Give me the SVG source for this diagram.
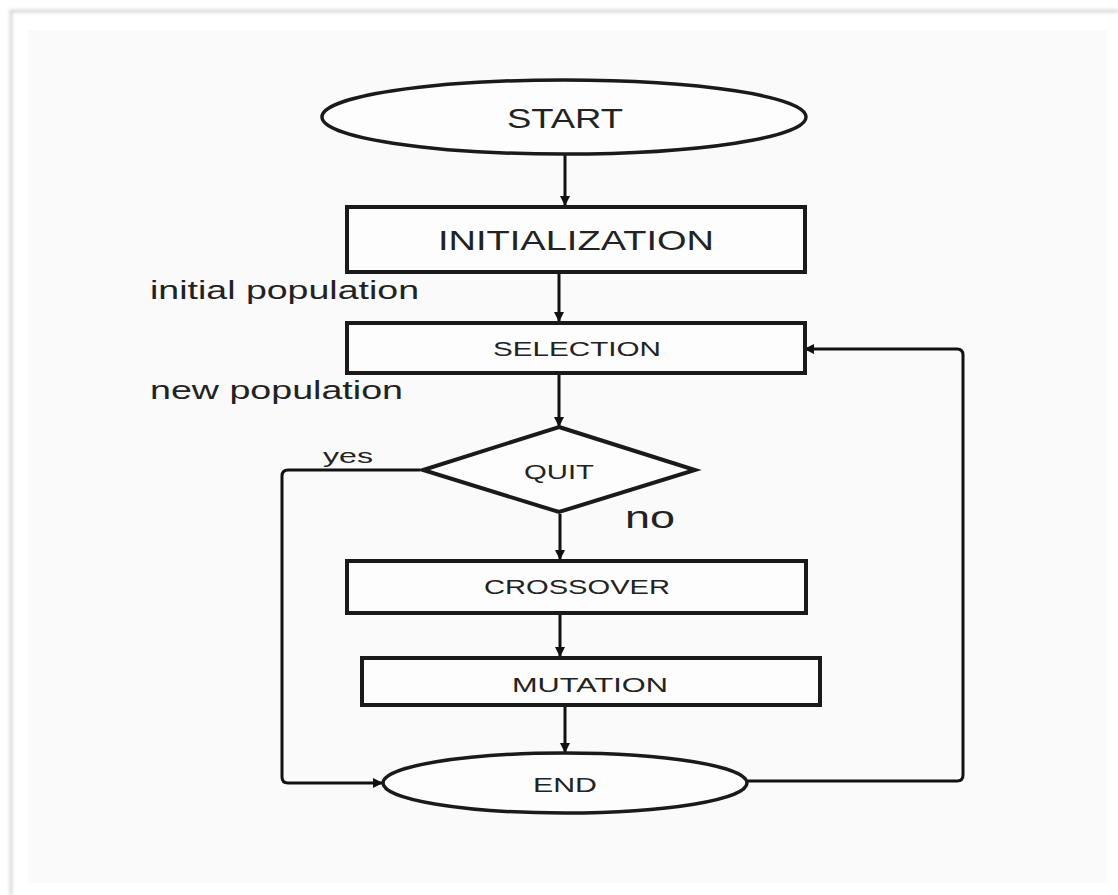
<svg xmlns="http://www.w3.org/2000/svg" width="1118" height="895" viewBox="0 0 1118 895">
  <defs>
    <marker id="ah" markerWidth="10" markerHeight="10" refX="9" refY="5" orient="auto" markerUnits="userSpaceOnUse">
      <path d="M0,0 L10,5 L0,10 Z" fill="#111"/>
    </marker>
    <filter id="sh" x="-5%" y="-5%" width="110%" height="110%">
      <feGaussianBlur stdDeviation="1.5"/>
    </filter>
  </defs>
  <style>
    .box { fill: #fdfdfd; stroke: #1a1a1a; stroke-width: 4; }
    .ell { fill: #fdfdfd; stroke: #1a1a1a; stroke-width: 3.5; }
    .lbl { font-family: "Liberation Sans", "DejaVu Sans", sans-serif; fill: #222; text-anchor: middle; }
    .side { font-family: "Liberation Sans", "DejaVu Sans", sans-serif; fill: #222; }
    .conn { fill: none; stroke: #111; stroke-width: 3; stroke-linejoin: round; }
  </style>
  <rect x="0" y="0" width="1118" height="895" fill="#ffffff"/>
  <path d="M11,895 L11,11 L1118,11" fill="none" stroke="#d8d8d8" stroke-width="3" filter="url(#sh)"/>
  <rect x="28" y="30" width="1079" height="853" fill="#fafafa"/>

  <g id="connectors">
    <line class="conn" x1="565" y1="155" x2="565" y2="205" marker-end="url(#ah)"/>
    <line class="conn" x1="559" y1="274" x2="559" y2="321" marker-end="url(#ah)"/>
    <line class="conn" x1="559" y1="375" x2="559" y2="426" marker-end="url(#ah)"/>
    <line class="conn" x1="560" y1="514" x2="560" y2="559" marker-end="url(#ah)"/>
    <line class="conn" x1="560" y1="615" x2="560" y2="656" marker-end="url(#ah)"/>
    <line class="conn" x1="565" y1="707" x2="565" y2="752" marker-end="url(#ah)"/>
    <path class="conn" d="M420,470 L288,470 Q282,470 282,476 L282,777 Q282,783 288,783 L382,783" marker-end="url(#ah)"/>
    <path class="conn" d="M748,781 L957,781 Q963,781 963,775 L963,355 Q963,349 957,349 L805,349" marker-end="url(#ah)"/>
  </g>

  <g id="start">
    <ellipse class="ell" cx="564" cy="117" rx="242" ry="37"/>
    <text class="lbl" x="565" y="128" font-size="28" textLength="116" lengthAdjust="spacingAndGlyphs">START</text>
  </g>
  <g id="initialization">
    <rect class="box" x="347" y="207" width="458" height="65"/>
    <text class="lbl" x="576" y="250" font-size="28" textLength="276" lengthAdjust="spacingAndGlyphs">INITIALIZATION</text>
  </g>
  <g id="selection">
    <rect class="box" x="347" y="323" width="458" height="50"/>
    <text class="lbl" x="577" y="356" font-size="21" textLength="168" lengthAdjust="spacingAndGlyphs">SELECTION</text>
  </g>
  <g id="quit">
    <polygon class="box" points="559,427 695,470 559,512 423,470"/>
    <text class="lbl" x="559" y="479" font-size="21" textLength="70" lengthAdjust="spacingAndGlyphs">QUIT</text>
  </g>
  <g id="crossover">
    <rect class="box" x="347" y="561" width="459" height="52"/>
    <text class="lbl" x="577" y="594" font-size="21" textLength="186" lengthAdjust="spacingAndGlyphs">CROSSOVER</text>
  </g>
  <g id="mutation">
    <rect class="box" x="362" y="658" width="458" height="47"/>
    <text class="lbl" x="590" y="692" font-size="21" textLength="156" lengthAdjust="spacingAndGlyphs">MUTATION</text>
  </g>
  <g id="end">
    <ellipse class="ell" cx="565" cy="783" rx="182" ry="30"/>
    <text class="lbl" x="565" y="792" font-size="21" textLength="64" lengthAdjust="spacingAndGlyphs">END</text>
  </g>

  <g id="labels">
    <text class="side" x="150" y="299" font-size="25" textLength="269" lengthAdjust="spacingAndGlyphs">initial population</text>
    <text class="side" x="150" y="399" font-size="25" textLength="253" lengthAdjust="spacingAndGlyphs">new population</text>
    <text class="side" x="323" y="463" font-size="20" textLength="50" lengthAdjust="spacingAndGlyphs">yes</text>
    <text class="side" x="625" y="528" font-size="32" textLength="50" lengthAdjust="spacingAndGlyphs">no</text>
  </g>
</svg>
